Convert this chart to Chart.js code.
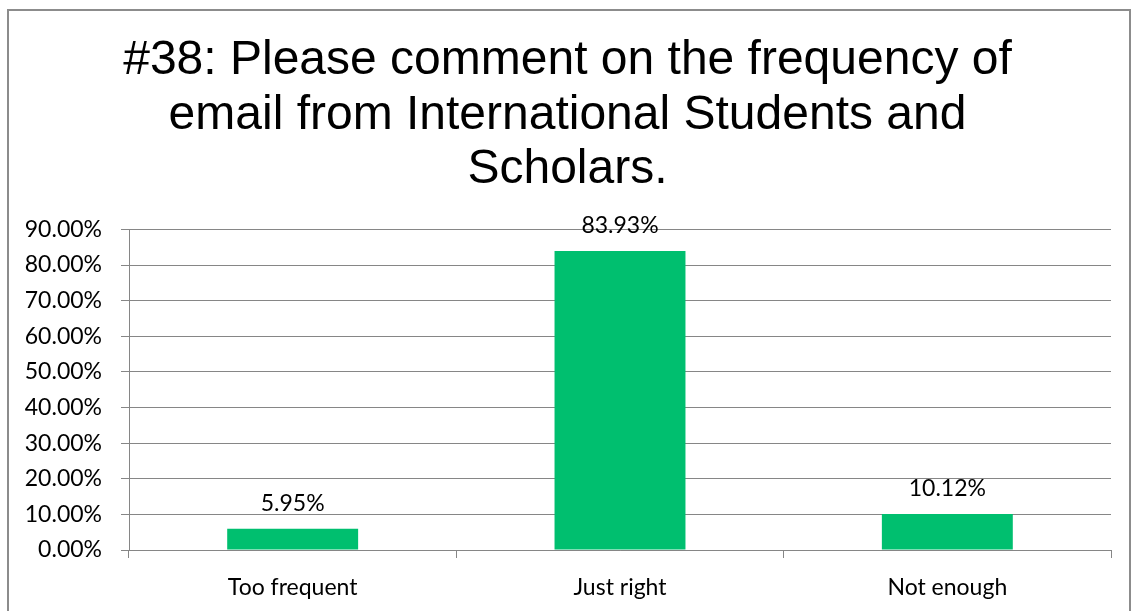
<!DOCTYPE html>
<html>
<head>
<meta charset="utf-8">
<script src="https://cdn.jsdelivr.net/npm/chart.js@4.4.0/dist/chart.umd.min.js"></script>
<style>
  html, body { margin: 0; padding: 0; background: #fff; }
  #frame {
    position: absolute; left: 7px; top: 9px; width: 1124px; height: 620px;
    border: 2px solid #8c8c8c; box-sizing: border-box;
  }
  #wrap { position: absolute; left: 0; top: 0; width: 1135px; height: 611px; }
</style>
</head>
<body>
<div id="frame"></div>
<div id="wrap"><canvas id="chart" width="1135" height="611"></canvas></div>
<script>
// data
const categories = ['Too frequent', 'Just right', 'Not enough'];
const percents = [5.95, 83.93, 10.12];
const yTicks = [0, 10, 20, 30, 40, 50, 60, 70, 80, 90];

const gridGray = '#868686';
const labelFont = { family: 'Lato', size: 23 };

// value labels above the bars
const barLabels = {
  id: 'barLabels',
  afterDatasetsDraw(chart) {
    const ctx = chart.ctx;
    const meta = chart.getDatasetMeta(0);
    ctx.save();
    ctx.font = '23px Lato';
    ctx.fillStyle = '#000';
    ctx.textAlign = 'center';
    ctx.textBaseline = 'middle';
    meta.data.forEach((bar, i) => {
      ctx.fillText(percents[i].toFixed(2) + '%', bar.x, bar.y - 25);
    });
    ctx.restore();
  }
};

new Chart(document.getElementById('chart').getContext('2d'), {
  type: 'bar',
  data: {
    labels: categories,
    datasets: [{
      data: percents,
      backgroundColor: '#00BF6F',
      borderWidth: 0,
      barPercentage: 0.4,
      categoryPercentage: 1.0
    }]
  },
  options: {
    responsive: false,
    animation: false,
    layout: { padding: { top: 34, right: 12, bottom: 0, left: 12 } },
    plugins: {
      legend: { display: false },
      tooltip: { enabled: false },
      title: {
        display: true,
        text: ['#38: Please comment on the frequency of',
               'email from International Students and',
               'Scholars.'],
        color: '#000',
        font: { family: 'Liberation Sans', size: 48, weight: 'normal', lineHeight: 1.135 },
        padding: { top: 0, bottom: 32 }
      }
    },
    scales: {
      y: {
        min: 0,
        max: 90,
        afterBuildTicks(scale) { scale.ticks = yTicks.map(v => ({ value: v })); },
        afterFit(scale) { scale.width = 117; },
        grid: { color: gridGray, lineWidth: 1, tickLength: 8, drawTicks: true },
        border: { display: true, color: gridGray, width: 1 },
        ticks: {
          color: '#000',
          font: labelFont,
          padding: 19,
          callback: v => v.toFixed(2) + '%'
        }
      },
      // empty spacer on the right so the plot ends where the original does
      y2: {
        position: 'right',
        min: 0,
        max: 90,
        afterFit(scale) { scale.width = 12; },
        grid: { display: false },
        border: { display: false },
        ticks: { display: false }
      },
      x: {
        afterFit(scale) { scale.height = 61; },
        grid: { offset: true, drawOnChartArea: false, color: gridGray, tickLength: 8 },
        border: { display: true, color: gridGray, width: 1 },
        ticks: { color: '#000', font: labelFont, padding: 16 }
      }
    }
  },
  plugins: [barLabels]
});
</script>
</body>
</html>
